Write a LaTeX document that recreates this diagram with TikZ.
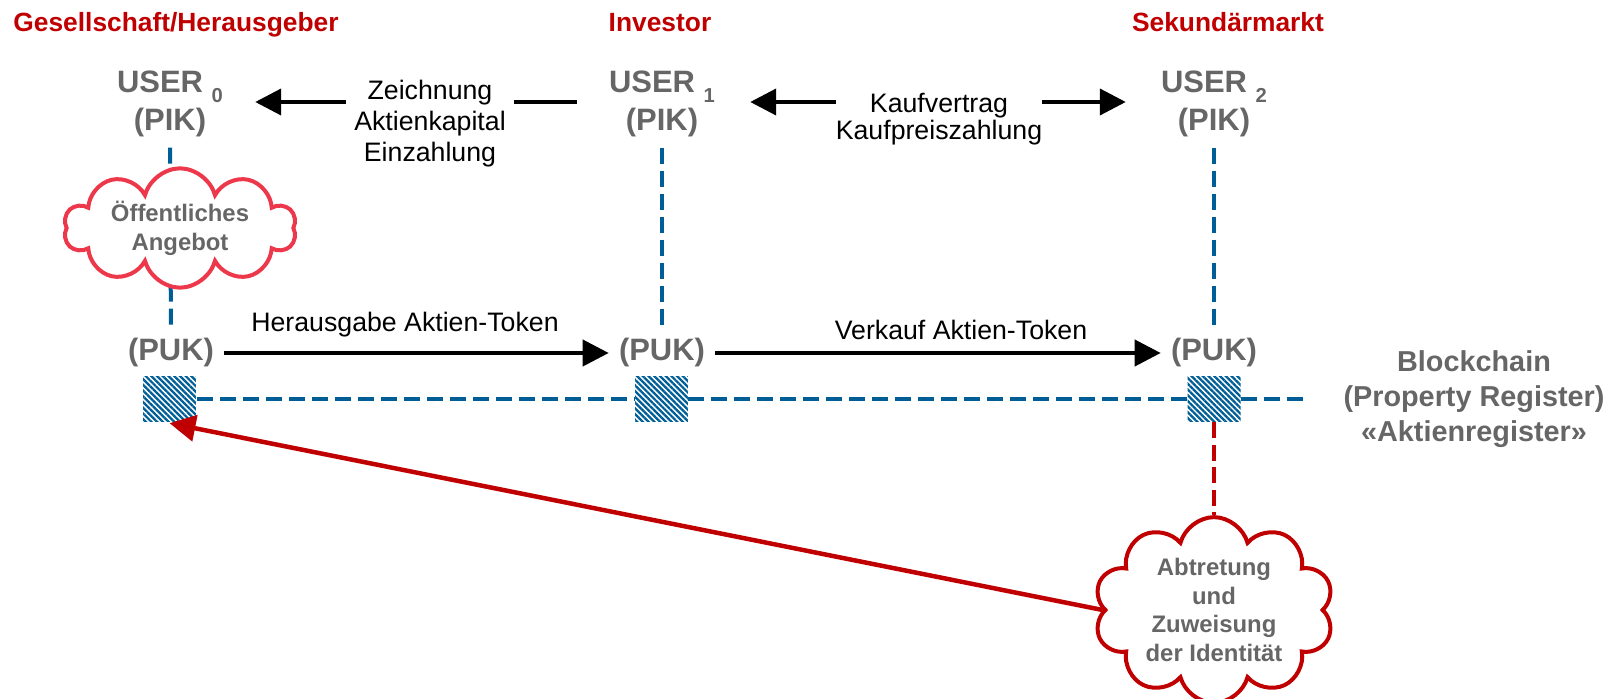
\documentclass[tikz,border=0pt]{standalone}
\usepackage{fontspec}
\setmainfont{Liberation Sans}
\usepackage{tikz}
\usetikzlibrary{arrows.meta,shapes.symbols,patterns.meta}
\definecolor{titlered}{RGB}{192,0,0}
\definecolor{cloudred}{RGB}{236,56,74}
\definecolor{regblue}{RGB}{0,94,150}
\definecolor{txtgray}{RGB}{102,102,102}
\newcommand{\usub}[1]{{\fontsize{11.5}{11.5}\selectfont\raisebox{-5.7pt}{#1}}}

\begin{document}
\begin{tikzpicture}[
  x=0.02cm, y=-0.02cm,
  >={Triangle[length=0.52cm,width=0.52cm]},
  every node/.style={inner sep=0pt},
  title/.style={font=\fontsize{15}{18}\selectfont\bfseries, text=titlered, anchor=base},
  user/.style={font=\fontsize{17.6}{22}\selectfont\bfseries, text=txtgray, align=center, inner sep=0.2cm},
  lbl/.style={font=\fontsize{15.2}{17.6}\selectfont, align=center},
  cloudtxt/.style={cloud, cloud puffs=10, cloud ignores aspect, line width=0.08cm, fill=white,
    font=\fontsize{13.6}{16.4}\selectfont\bfseries, text=txtgray, align=center},
  regbox/.style={minimum width=1.06cm, minimum height=0.92cm, preaction={fill=white},
    pattern={Lines[angle=-45,distance=2.3pt,line width=1.3pt]}, pattern color=regblue},
  bluedash/.style={regblue, line width=0.08cm, dash pattern=on 0.32cm off 0.14cm},
  redash/.style={titlered, line width=0.08cm, dash pattern=on 0.32cm off 0.13cm},
  arr/.style={line width=0.08cm, ->}
]
  \useasboundingbox (0,0) rectangle (1614,699);

  \node[title] (t0) at (176,32) {Gesellschaft/Herausgeber};
  \node[title] (t1) at (660,32) {Investor};
  \node[title] (t2) at (1228,32) {Sekundärmarkt};

  \node[user] (u0) at (170,104) {USER \usub{0}\\(PIK)};
  \node[user] (u1) at (662,104) {USER \usub{1}\\(PIK)};
  \node[user] (u2) at (1214,104) {USER \usub{2}\\(PIK)};
  \node[user] (p0) at (171,353) {(PUK)};
  \node[user] (p1) at (662,353) {(PUK)};
  \node[user] (p2) at (1214,353) {(PUK)};

  \draw[bluedash] (u0) -- (p0);
  \draw[bluedash] (u1) -- (p1);
  \draw[bluedash] (u2) -- (p2);

  \node[regbox] (sq0) at (169.5,399) {};
  \node[regbox] (sq1) at (661.5,399) {};
  \node[regbox] (sq2) at (1214,399) {};
  \coordinate (bcend) at (1308,399);
  \draw[bluedash] (sq0) -- (sq1);
  \draw[bluedash] (sq1) -- (sq2);
  \draw[bluedash] (sq2) -- (bcend);

  \node[font=\fontsize{16.4}{19.8}\selectfont\bfseries, text=txtgray, align=center] (bc)
    at (1474,399) {Blockchain\\(Property Register)\\«Aktienregister»};

  \node[cloudtxt, draw=cloudred, minimum width=4.64cm, minimum height=2.18cm] (cl0)
    at (180,228) {Öffentliches\\Angebot};
  \node[cloudtxt, draw=titlered, minimum width=4.8cm, minimum height=3.48cm] (cl1)
    at (1214,610) {Abtretung\\und\\Zuweisung\\der Identität};

  \draw[arr, shorten <=0.44cm, shorten >=0.44cm] ([yshift=0.04cm]u1.west) -- ([yshift=0.04cm]u0.east);
  \node[lbl, fill=white, inner xsep=0.16cm] (zei) at (430,124) {Zeichnung\\Aktienkapital\\Einzahlung};

  \draw[arr, <->, shorten <=0.5cm, shorten >=0.5cm] ([yshift=0.04cm]u1.east) -- ([yshift=0.04cm]u2.west);
  \node[lbl, fill=white, font=\fontsize{15.2}{15.3}\selectfont] (kauf) at (939,119.5) {Kaufvertrag\\Kaufpreiszahlung};

  \draw[arr] (p0) -- (p1);
  \node[lbl] (her) at (405,325) {Herausgabe Aktien-Token};
  \draw[arr] (p1) -- (p2);
  \node[lbl] (verk) at (961,330) {Verkauf Aktien-Token};

  \draw[redash] (sq2) -- (cl1);
  \draw[arr, titlered, line width=0.09cm] (cl1.west) -- (sq0.south);
\end{tikzpicture}
\end{document}
